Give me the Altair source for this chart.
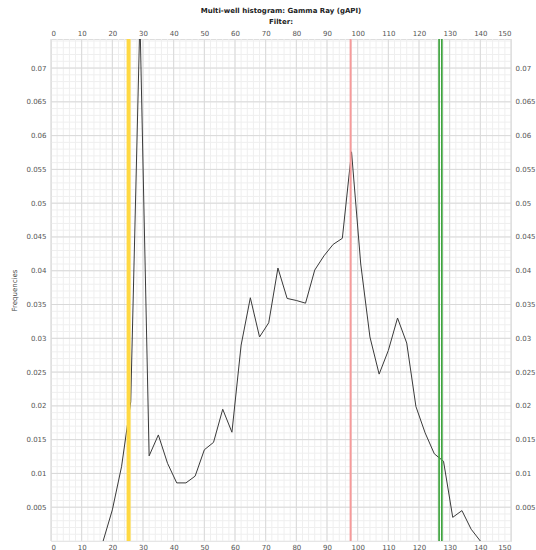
import altair as alt
import pandas as pd

# ---- data ----
gamma = [17, 20, 23, 26, 29, 32, 35, 38, 41, 44, 47, 50, 53, 56, 59, 62, 65, 68, 71, 74, 77,
         80, 83, 86, 89, 92, 95, 98, 101, 104, 107, 110, 113, 116, 119, 122, 125, 128, 131,
         134, 137, 140]
freq = [0, 0.0046, 0.011, 0.0206, 0.0775, 0.0126, 0.0157, 0.0115, 0.0086, 0.0086, 0.0096,
        0.0135, 0.0146, 0.0195, 0.0161, 0.029, 0.036, 0.0302, 0.0323, 0.0404, 0.0359, 0.0356,
        0.0352, 0.0401, 0.0422, 0.0439, 0.0448, 0.0576, 0.041, 0.0302, 0.0247, 0.0282, 0.033,
        0.0293, 0.0199, 0.016, 0.0129, 0.0118, 0.0035, 0.0045, 0.00175, 0]

yellow_cut = [25.3]
red_cut = [97.7]
green_cut = [126.55, 127.45]

x_ticks = [0, 10, 20, 30, 40, 50, 60, 70, 80, 90, 100, 110, 120, 130, 140, 150]
y_ticks = [0.005, 0.01, 0.015, 0.02, 0.025, 0.03, 0.035, 0.04, 0.045, 0.05, 0.055, 0.06,
           0.065, 0.07]
x_minor = [v for v in range(0, 151, 2)]
y_minor = [i / 1000 for i in range(0, 75)]

X_DOM = [0, 150]
Y_DOM = [0, 0.0743]
FONT = "DejaVu Sans"

xs = alt.Scale(domain=X_DOM, nice=False, zero=False)
ys = alt.Scale(domain=Y_DOM, nice=False, zero=False)

df = pd.DataFrame({"gamma": gamma, "freq": freq})

minor_v = alt.Chart(pd.DataFrame({"x": x_minor})).mark_rule(color="#efefef", strokeWidth=1).encode(
    x=alt.X("x:Q", scale=xs, axis=None))
minor_h = alt.Chart(pd.DataFrame({"y": y_minor})).mark_rule(color="#efefef", strokeWidth=1).encode(
    y=alt.Y("y:Q", scale=ys, axis=None))

axis_common = dict(grid=False, ticks=False, domain=False, labelFont=FONT, labelFontSize=7,
                   labelColor="#555555", title=None)

major_v = alt.Chart(pd.DataFrame({"x": x_ticks})).mark_rule(color="#d9d9d9", strokeWidth=1).encode(
    x=alt.X("x:Q", scale=xs,
            axis=alt.Axis(orient="top", values=x_ticks, format="d", labelPadding=3, **axis_common)))
major_h = alt.Chart(pd.DataFrame({"y": y_ticks})).mark_rule(color="#d9d9d9", strokeWidth=1).encode(
    y=alt.Y("y:Q", scale=ys,
            axis=alt.Axis(orient="right", values=y_ticks, format="~g", labelPadding=4, **axis_common)))

yellow = alt.Chart(pd.DataFrame({"x": yellow_cut})).mark_rule(color="#ffd942", strokeWidth=4).encode(
    x=alt.X("x:Q", scale=xs, axis=None))
red = alt.Chart(pd.DataFrame({"x": red_cut})).mark_rule(color="#f59a9a", strokeWidth=2).encode(
    x=alt.X("x:Q", scale=xs, axis=None))
green = alt.Chart(pd.DataFrame({"x": green_cut})).mark_rule(color="#3fa33f", strokeWidth=1.7).encode(
    x=alt.X("x:Q", scale=xs, axis=None))

line = alt.Chart(df).mark_line(color="#3a3a3a", strokeWidth=1, clip=True).encode(
    x=alt.X("gamma:Q", scale=xs,
            axis=alt.Axis(orient="bottom", values=x_ticks, format="d", labelPadding=2, **axis_common)),
    y=alt.Y("freq:Q", scale=ys,
            axis=alt.Axis(orient="left", values=y_ticks, format="~g", labelPadding=5,
                          grid=False, ticks=False, domain=False, labelFont=FONT, labelFontSize=7,
                          labelColor="#555555", title="Frequencies", titleFont=FONT,
                          titleFontSize=7, titleFontWeight="normal", titleColor="#444444",
                          titlePadding=8)),
)

chart = alt.layer(minor_v, minor_h, major_v, major_h, line, yellow, red, green).resolve_axis(
    x="independent", y="independent"
).properties(
    width=460, height=502,
    title=alt.TitleParams(text="Multi-well histogram: Gamma Ray (gAPI)", subtitle="Filter:",
                          font=FONT, fontSize=7, fontWeight="bold", color="#222222",
                          subtitleFont=FONT, subtitleFontSize=7, subtitleFontWeight="bold",
                          subtitleColor="#222222", subtitlePadding=4, anchor="middle", offset=4),
    autosize=alt.AutoSizeParams(type="none"),
    padding={"left": 51, "top": 39, "right": 25, "bottom": 9},
).configure_view(stroke="#8f8f8f", strokeWidth=2).configure(background="white")

chart.save("out.html", embed_options={"renderer": "svg", "actions": False})
